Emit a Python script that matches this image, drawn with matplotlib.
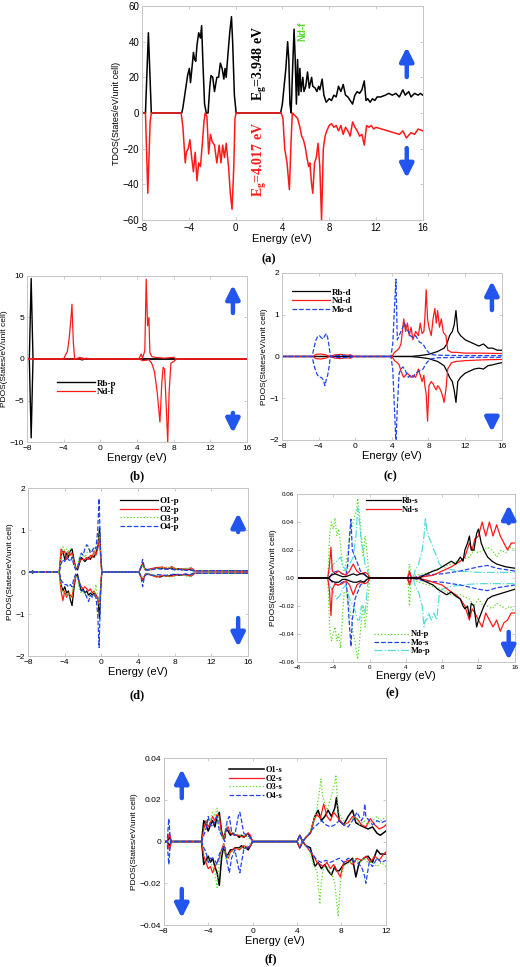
import matplotlib
matplotlib.use("Agg")
import matplotlib.pyplot as plt
from matplotlib.ticker import FuncFormatter

plt.rcParams['font.family'] = ['Liberation Sans', 'DejaVu Sans']
plt.rcParams['mathtext.default'] = 'regular'

# ---------------------------------------------------
# DATA  (energy in eV, DOS values)
# ---------------------------------------------------

# (a) total DOS, spin up / spin down : (E, dos)
tdos_up = [(-8, 0), (-7.7, 0), (-7.45, 45), (-7.2, 0), (-4.6, 0), (-4.5, 3), (-4.3, 12), (-4.1, 21),
           (-3.95, 25), (-3.85, 17), (-3.7, 27), (-3.6, 34), (-3.5, 30), (-3.4, 29), (-3.3, 38),
           (-3.15, 45), (-3.0, 42), (-2.9, 49), (-2.8, 30), (-2.65, 5), (-2.5, 0), (-2.35, 0),
           (-2.2, 15), (-2.1, 21), (-1.95, 20), (-1.8, 12), (-1.6, 20), (-1.45, 20), (-1.3, 28),
           (-1.15, 25), (-1.0, 19), (-0.9, 25), (-0.8, 20), (-0.65, 33), (-0.5, 45), (-0.35, 54),
           (-0.25, 40), (-0.1, 10), (0.05, 0), (3.85, 0), (4.0, 5), (4.15, 15), (4.3, 25), (4.45, 40),
           (4.55, 30), (4.65, 5), (4.75, 0), (4.85, 20), (5.0, 47), (5.1, 30), (5.2, 5), (5.3, 30),
           (5.4, 10), (5.5, 25), (5.6, 12), (5.75, 20), (5.85, 12), (6.0, 15), (6.15, 23), (6.3, 14),
           (6.5, 20), (6.6, 15), (6.8, 14), (6.95, 12), (7.1, 15), (7.2, 13), (7.4, 19), (7.55, 10),
           (7.75, 6), (8.0, 8), (8.2, 7), (8.4, 10), (8.6, 9), (8.8, 15), (9.0, 12), (9.2, 16),
           (9.4, 10), (9.6, 9), (9.8, 7), (10.0, 5), (10.2, 10), (10.4, 12), (10.6, 11), (10.8, 13),
           (11.0, 18), (11.15, 7), (11.3, 8), (11.5, 6), (11.7, 8), (11.9, 7), (12.1, 9), (12.4, 9),
           (12.8, 10), (13.1, 11), (13.4, 10), (13.7, 11), (14.0, 9), (14.3, 13), (14.5, 10),
           (14.8, 12), (15.0, 9), (15.3, 11), (15.6, 10), (15.8, 11), (16, 10)]
tdos_dn = [(-8, 0), (-7.7, 0), (-7.5, -45), (-7.3, -5), (-7.2, 0), (-4.65, 0), (-4.5, -8), (-4.3, -28),
           (-4.2, -22), (-4.05, -20), (-3.9, -15), (-3.75, -25), (-3.6, -33), (-3.45, -22), (-3.3, -38),
           (-3.15, -28), (-3.0, -30), (-2.85, -18), (-2.7, -5), (-2.6, 0), (-2.45, -2), (-2.3, -23),
           (-2.15, -12), (-2.0, -16), (-1.8, -18), (-1.6, -28), (-1.4, -18), (-1.25, -28), (-1.1, -18),
           (-0.95, -25), (-0.8, -17), (-0.6, -30), (-0.45, -45), (-0.3, -54), (-0.15, -30), (-0.05, -3),
           (0.05, 0), (3.9, 0), (4.05, -3), (4.2, -20), (4.4, -28), (4.6, -43), (4.75, -15), (4.85, 0),
           (5.0, -1), (5.3, -3), (5.5, -8), (5.65, -13), (5.8, -15), (5.95, -19), (6.1, -25),
           (6.25, -30), (6.35, -28), (6.5, -40), (6.6, -45), (6.75, -28), (6.9, -25), (7.05, -17),
           (7.2, -30), (7.35, -60), (7.5, -20), (7.65, -13), (7.8, -10), (8.0, -7), (8.2, -6),
           (8.4, -8), (8.6, -7), (8.8, -10), (9.0, -7), (9.2, -12), (9.4, -8), (9.6, -10), (9.8, -13),
           (10.0, -5), (10.2, -8), (10.4, -10), (10.6, -13), (10.8, -12), (11.0, -18), (11.2, -7),
           (11.4, -8), (11.6, -7), (11.8, -9), (12.0, -8), (12.5, -9), (13.0, -10), (13.5, -11),
           (14.0, -12), (14.3, -10), (14.6, -14), (15.0, -11), (15.3, -12), (15.6, -9), (16, -10)]

# (b) Rb-p / Nd-f : (E, up, down) and (E, dos)
rb_p = [(-8, 0, 0), (-7.75, 0, 0), (-7.55, 9.7, -9.5), (-7.35, 0, 0), (-2.3, 0, 0), (-2.0, 0.1, -0.1),
        (-1.6, 0, 0), (16, 0, 0)]
nd_f_up = [(-8, 0), (-4.0, 0), (-3.8, 0.5), (-3.6, 0.9), (-3.4, 2.5), (-3.2, 5), (-3.1, 6.6), (-2.95, 2),
           (-2.8, 0), (-2.2, 0.2), (-2.0, 0), (-1.5, 0.1), (-1.2, 0), (4.2, 0), (4.45, 0.6), (4.6, 0.1),
           (4.85, 1), (5.0, 9.6), (5.15, 4), (5.3, 5.0), (5.4, 0.8), (5.6, 0.3), (6.0, 0.2), (7.0, 0.1),
           (8.0, 0.2), (8.3, 0), (16, 0)]
nd_f_dn = [(-8, 0), (4.3, 0), (4.6, -0.2), (5.3, -0.1), (5.6, -0.5), (5.9, -1.5), (6.2, -4), (6.5, -7.6),
           (6.7, -3), (6.85, -1), (7.0, -1.2), (7.2, -6), (7.35, -10), (7.5, -4), (7.7, -0.5), (8.0, -0.3),
           (8.3, 0), (16, 0)]

# (c) Rb-d / Nd-d / Mo-d : (E, up, down)
rb_d = [(-8, 0, 0), (6, 0, 0), (7, 0.02, -0.02), (8, 0.05, -0.05), (9, 0.12, -0.12), (9.7, 0.2, -0.22),
        (10.0, 0.3, -0.35), (10.3, 0.5, -0.5), (10.6, 0.6, -0.6), (10.8, 0.75, -0.8), (11.0, 1.1, -1.1),
        (11.2, 0.6, -0.6), (11.5, 0.5, -0.5), (12, 0.4, -0.4), (12.5, 0.35, -0.35), (13, 0.3, -0.3),
        (13.5, 0.25, -0.28), (14, 0.3, -0.3), (14.5, 0.2, -0.22), (15, 0.2, -0.2), (15.5, 0.15, -0.17),
        (16, 0.15, -0.15)]
nd_d = [(-8, 0, 0), (-4.6, 0, 0), (-4.3, 0.05, -0.05), (-3.8, 0.06, -0.06), (-3.2, 0.04, -0.04),
        (-2.8, 0, 0), (-2.2, 0.04, -0.04), (-1.6, 0.05, -0.05), (-1.0, 0.03, -0.03), (-0.5, 0.04, -0.04),
        (-0.2, 0, 0), (4.0, 0, 0), (4.3, 0.1, -0.1), (4.6, 0.15, -0.15), (4.8, 0.2, -0.2), (5.0, 0.3, -0.35),
        (5.3, 0.9, -0.5), (5.5, 0.6, -0.45), (5.7, 0.8, -0.4), (5.9, 0.5, -0.45), (6.1, 0.7, -0.5),
        (6.3, 0.4, -0.45), (6.6, 0.6, -0.5), (6.9, 0.5, -0.3), (7.1, 0.8, -0.45), (7.3, 0.55, -0.6),
        (7.5, 0.6, -0.45), (7.6, 0.9, -0.7), (7.75, 1.6, -0.9), (7.9, 0.9, -1.55), (8.05, 0.7, -0.7),
        (8.3, 0.5, -0.6), (8.5, 0.9, -0.65), (8.7, 1.15, -0.75), (8.85, 0.8, -0.8), (9.0, 1.1, -0.7),
        (9.2, 0.7, -0.75), (9.4, 0.9, -0.85), (9.6, 0.6, -1.0), (9.7, 0.55, -1.1), (9.9, 0.5, -0.8),
        (10.1, 0.15, -0.3), (10.5, 0.1, -0.15), (11, 0.1, -0.12), (12, 0.08, -0.1), (14, 0.08, -0.08),
        (16, 0.07, -0.07)]
mo_d = [(-8, 0, 0), (-4.7, 0, 0), (-4.5, 0.2, -0.2), (-4.3, 0.38, -0.35), (-4.1, 0.48, -0.45),
        (-3.9, 0.5, -0.5), (-3.7, 0.45, -0.5), (-3.5, 0.42, -0.55), (-3.3, 0.5, -0.7), (-3.15, 0.55, -0.55),
        (-3.0, 0.45, -0.45), (-2.85, 0.25, -0.25), (-2.7, 0, 0), (-2.2, 0.02, -0.02), (-1.5, 0.03, -0.03),
        (-0.5, 0.02, -0.02), (-0.2, 0, 0), (3.9, 0, 0), (4.1, 0.3, -0.3), (4.3, 1.2, -1.3),
        (4.45, 1.85, -2.1), (4.6, 0.4, -1.2), (4.8, 0.5, -0.4), (5.0, 0.6, -0.3), (5.2, 0.7, -0.25),
        (5.4, 0.8, -0.3), (5.6, 0.65, -0.4), (5.8, 0.6, -0.5), (6.0, 0.5, -0.45), (6.3, 0.45, -0.5),
        (6.6, 0.5, -0.4), (7.0, 0.35, -0.35), (7.4, 0.3, -0.3), (7.8, 0.15, -0.15), (8.2, 0.05, -0.06),
        (9, 0.03, -0.03), (12, 0.02, -0.02), (16, 0.02, -0.02)]

# (d) O1-p .. O4-p : (E, up, down)
o1_p = [(-8, 0, 0), (-7.6, 0, 0), (-7.5, 0.03, -0.03), (-7.4, 0, 0), (-4.6, 0, 0), (-4.4, 0.4, -0.3),
        (-4.2, 0.5, -0.45), (-4.0, 0.3, -0.35), (-3.8, 0.45, -0.5), (-3.6, 0.35, -0.45), (-3.4, 0.5, -0.65),
        (-3.2, 0.55, -0.8), (-3.0, 0.3, -0.4), (-2.8, 0.1, -0.1), (-2.6, 0.05, -0.05), (-2.4, 0.2, -0.3),
        (-2.2, 0.35, -0.45), (-2.0, 0.3, -0.4), (-1.8, 0.25, -0.5), (-1.6, 0.3, -0.45), (-1.4, 0.35, -0.55),
        (-1.2, 0.3, -0.5), (-1.0, 0.4, -0.55), (-0.8, 0.35, -0.5), (-0.6, 0.45, -0.55), (-0.4, 0.6, -0.6),
        (-0.2, 1.05, -1.1), (-0.05, 0.3, -0.3), (0.05, 0, 0), (4.1, 0, 0), (4.5, 0.2, -0.2),
        (4.8, 0.05, -0.05), (5.2, 0.05, -0.05), (5.6, 0.08, -0.08), (6.0, 0.1, -0.1), (6.4, 0.08, -0.12),
        (6.8, 0.1, -0.08), (7.2, 0.07, -0.1), (7.6, 0.1, -0.08), (8.0, 0.06, -0.06), (8.4, 0.08, -0.08),
        (8.8, 0.05, -0.07), (9.2, 0.07, -0.05), (9.6, 0.06, -0.08), (10.0, 0.03, -0.03), (12, 0.03, -0.03),
        (16, 0.03, -0.03)]
o2_p = [(-8, 0, 0), (-4.6, 0, 0), (-4.4, 0.55, -0.45), (-4.2, 0.45, -0.68), (-4.0, 0.5, -0.45),
        (-3.8, 0.3, -0.6), (-3.6, 0.5, -0.5), (-3.4, 0.4, -0.55), (-3.2, 0.45, -0.6), (-3.0, 0.25, -0.3),
        (-2.8, 0.1, -0.1), (-2.6, 0.1, -0.1), (-2.4, 0.25, -0.25), (-2.2, 0.3, -0.35), (-2.0, 0.3, -0.4),
        (-1.8, 0.3, -0.35), (-1.6, 0.35, -0.4), (-1.4, 0.3, -0.45), (-1.2, 0.4, -0.4), (-1.0, 0.35, -0.5),
        (-0.8, 0.5, -0.45), (-0.6, 0.4, -0.55), (-0.4, 0.55, -0.65), (-0.2, 0.85, -0.8), (-0.05, 0.2, -0.2),
        (0.05, 0, 0), (4.1, 0, 0), (4.5, 0.18, -0.18), (4.8, 0.05, -0.05), (5.4, 0.08, -0.07),
        (6.0, 0.1, -0.12), (6.6, 0.12, -0.08), (7.2, 0.08, -0.1), (7.7, 0.13, -0.1), (8.2, 0.06, -0.07),
        (8.8, 0.08, -0.06), (9.4, 0.05, -0.08), (9.8, 0.1, -0.1), (10.2, 0.03, -0.03), (12, 0.03, -0.03),
        (16, 0.02, -0.02)]
o3_p = [(-8, 0, 0), (-4.6, 0, 0), (-4.4, 0.35, -0.35), (-4.2, 0.6, -0.5), (-4.0, 0.5, -0.45),
        (-3.8, 0.55, -0.55), (-3.6, 0.45, -0.5), (-3.4, 0.55, -0.6), (-3.2, 0.4, -0.55), (-3.0, 0.2, -0.25),
        (-2.8, 0.1, -0.1), (-2.6, 0.15, -0.15), (-2.4, 0.35, -0.4), (-2.2, 0.45, -0.5), (-2.0, 0.4, -0.45),
        (-1.8, 0.35, -0.5), (-1.6, 0.45, -0.55), (-1.4, 0.55, -0.6), (-1.2, 0.5, -0.55), (-1.0, 0.55, -0.6),
        (-0.8, 0.45, -0.55), (-0.6, 0.55, -0.3), (-0.4, 0.7, -0.6), (-0.2, 0.9, -0.85), (-0.05, 0.2, -0.2),
        (0.05, 0, 0), (4.1, 0, 0), (4.5, 0.15, -0.15), (4.8, 0.05, -0.05), (5.4, 0.06, -0.06),
        (6.0, 0.08, -0.1), (6.6, 0.1, -0.08), (7.2, 0.12, -0.1), (7.8, 0.1, -0.12), (8.4, 0.06, -0.06),
        (9.0, 0.08, -0.08), (9.6, 0.1, -0.12), (10.0, 0.04, -0.04), (12, 0.03, -0.03), (16, 0.03, -0.03)]
o4_p = [(-8, 0, 0), (-7.6, 0, 0), (-7.5, 0.03, -0.03), (-7.4, 0, 0), (-4.6, 0, 0), (-4.4, 0.2, -0.2),
        (-4.2, 0.3, -0.25), (-4.0, 0.25, -0.3), (-3.8, 0.35, -0.3), (-3.6, 0.3, -0.35), (-3.4, 0.25, -0.3),
        (-3.2, 0.35, -0.35), (-3.0, 0.15, -0.15), (-2.8, 0.05, -0.05), (-2.6, 0.1, -0.1), (-2.4, 0.3, -0.25),
        (-2.2, 0.45, -0.4), (-2.0, 0.4, -0.45), (-1.8, 0.55, -0.5), (-1.6, 0.65, -0.6), (-1.4, 0.6, -0.7),
        (-1.2, 0.45, -0.55), (-1.0, 0.5, -0.6), (-0.8, 0.6, -0.55), (-0.6, 0.55, -0.6), (-0.4, 1.0, -1.0),
        (-0.25, 1.75, -1.8), (-0.1, 0.5, -0.5), (0.05, 0, 0), (4.1, 0, 0), (4.35, 0.15, -0.15),
        (4.5, 0.3, -0.35), (4.7, 0.1, -0.1), (5.0, 0.05, -0.05), (5.6, 0.06, -0.08), (6.2, 0.08, -0.06),
        (6.8, 0.06, -0.08), (7.4, 0.08, -0.07), (8.0, 0.05, -0.05), (8.6, 0.06, -0.06), (9.2, 0.04, -0.05),
        (9.8, 0.05, -0.06), (10.2, 0.03, -0.03), (12, 0.03, -0.03), (16, 0.03, -0.03)]

# (e) Rb-s / Nd-s / Nd-p / Mo-s / Mo-p : (E, up, down)
rb_s = [(-8, 0, 0), (-4.5, 0, 0), (-4.2, 0.002, -0.002), (-3.8, 0.003, -0.003), (-3.4, 0.002, -0.003),
        (-3.0, 0.001, -0.001), (-2.6, 0.001, -0.001), (-2.2, 0.002, -0.002), (-1.8, 0.003, -0.003),
        (-1.4, 0.002, -0.003), (-1.0, 0.003, -0.002), (-0.6, 0.003, -0.003), (-0.3, 0.001, -0.001),
        (0, 0, 0), (5.5, 0, 0), (6, 0.002, -0.002), (7, 0.005, -0.005), (7.5, 0.006, -0.008),
        (8, 0.008, -0.01), (8.5, 0.01, -0.012), (9, 0.012, -0.01), (9.5, 0.01, -0.013), (10, 0.015, -0.015),
        (10.3, 0.012, -0.02), (10.5, 0.02, -0.022), (10.8, 0.025, -0.02), (11, 0.03, -0.028),
        (11.2, 0.02, -0.018), (11.5, 0.02, -0.02), (11.8, 0.032, -0.035), (12, 0.035, -0.03),
        (12.3, 0.025, -0.025), (12.6, 0.02, -0.02), (13, 0.015, -0.015), (13.5, 0.012, -0.013),
        (14, 0.01, -0.012), (15, 0.008, -0.01), (16, 0.007, -0.008)]
nd_s = [(-8, 0, 0), (-4.6, 0, 0), (-4.4, 0.01, -0.01), (-4.25, 0.022, -0.027), (-4.1, 0.005, -0.008),
        (-3.8, 0.003, -0.004), (-3.4, 0.005, -0.005), (-3.0, 0.003, -0.004), (-2.6, 0.002, -0.002),
        (-2.2, 0.005, -0.005), (-1.8, 0.01, -0.012), (-1.4, 0.005, -0.005), (-1.0, 0.003, -0.003),
        (-0.5, 0.004, -0.004), (-0.2, 0.003, -0.003), (0, 0, 0), (4.2, 0, 0), (4.4, 0.005, -0.005),
        (4.6, 0, 0), (6, 0.001, -0.001), (7, 0.002, -0.003), (8, 0.005, -0.005), (9, 0.008, -0.01),
        (9.5, 0.01, -0.012), (10, 0.012, -0.015), (10.5, 0.015, -0.02), (11, 0.025, -0.03),
        (11.3, 0.02, -0.022), (11.6, 0.028, -0.025), (12, 0.03, -0.03), (12.4, 0.04, -0.035),
        (12.8, 0.03, -0.025), (13.2, 0.04, -0.03), (13.6, 0.03, -0.035), (14, 0.038, -0.03),
        (14.4, 0.03, -0.038), (14.8, 0.025, -0.032), (15.2, 0.02, -0.03), (15.6, 0.025, -0.025),
        (16, 0.025, -0.025)]
nd_p = [(-8, 0, 0), (-4.6, 0, 0), (-4.4, 0.03, -0.035), (-4.2, 0.04, -0.045), (-4.0, 0.035, -0.04),
        (-3.8, 0.043, -0.035), (-3.6, 0.03, -0.045), (-3.4, 0.035, -0.04), (-3.2, 0.025, -0.05),
        (-3.0, 0.01, -0.03), (-2.8, 0.005, -0.01), (-2.6, 0.01, -0.01), (-2.4, 0.02, -0.015),
        (-2.2, 0.03, -0.02), (-2.0, 0.035, -0.03), (-1.8, 0.04, -0.04), (-1.6, 0.045, -0.045),
        (-1.4, 0.05, -0.055), (-1.3, 0.057, -0.058), (-1.1, 0.045, -0.045), (-0.9, 0.03, -0.03),
        (-0.7, 0.015, -0.02), (-0.5, 0.03, -0.035), (-0.3, 0.02, -0.025), (-0.1, 0.005, -0.01),
        (0.05, 0, 0), (4.2, 0, 0), (4.4, 0.01, -0.02), (4.6, 0, 0), (5, 0.002, -0.002), (6, 0.003, -0.004),
        (7, 0.005, -0.006), (8, 0.008, -0.008), (9, 0.01, -0.012), (10, 0.013, -0.012), (11, 0.015, -0.015),
        (11.5, 0.02, -0.02), (12, 0.018, -0.015), (12.5, 0.02, -0.02), (13, 0.022, -0.02),
        (13.5, 0.02, -0.022), (14, 0.015, -0.018), (14.5, 0.02, -0.02), (15, 0.018, -0.022),
        (15.5, 0.022, -0.02), (16, 0.02, -0.025)]
mo_s = [(-8, 0, 0), (-4.5, 0, 0), (-4.0, 0.004, -0.004), (-3.5, 0.005, -0.005), (-3.0, 0.003, -0.003),
        (-2.6, 0.002, -0.002), (-2.4, 0.01, -0.015), (-2.2, 0.03, -0.035), (-2.05, 0.042, -0.049),
        (-1.9, 0.02, -0.03), (-1.6, 0.015, -0.015), (-1.3, 0.01, -0.01), (-1.0, 0.005, -0.005),
        (-0.5, 0.002, -0.002), (0, 0, 0), (4.2, 0, 0), (4.4, 0.004, -0.004), (4.6, 0, 0), (6, 0.002, -0.002),
        (8, 0.003, -0.003), (10, 0.005, -0.005), (12, 0.008, -0.008), (13, 0.009, -0.009),
        (14, 0.007, -0.007), (16, 0.005, -0.005)]
mo_p = [(-8, 0, 0), (-4.6, 0, 0), (-4.4, 0.005, -0.005), (-4.0, 0.01, -0.01), (-3.6, 0.012, -0.015),
        (-3.2, 0.015, -0.012), (-3.0, 0.01, -0.008), (-2.6, 0.005, -0.005), (-2.2, 0.01, -0.015),
        (-1.8, 0.015, -0.02), (-1.5, 0.03, -0.025), (-1.3, 0.05, -0.03), (-1.1, 0.04, -0.03),
        (-0.9, 0.025, -0.02), (-0.7, 0.02, -0.02), (-0.5, 0.01, -0.025), (-0.2, 0.005, -0.005), (0, 0, 0),
        (4.8, 0, 0), (5.0, 0.005, -0.005), (5.4, 0.01, -0.01), (5.8, 0.02, -0.02), (6.0, 0.03, -0.035),
        (6.15, 0.043, -0.03), (6.3, 0.035, -0.03), (6.5, 0.03, -0.025), (6.8, 0.025, -0.03),
        (7.1, 0.02, -0.025), (7.4, 0.015, -0.03), (7.7, 0.01, -0.01), (8.0, 0.008, -0.008),
        (9, 0.006, -0.006), (10, 0.005, -0.005), (12, 0.004, -0.004), (16, 0.004, -0.004)]

# (f) O1-s .. O4-s : (E, up, down)
o1_s = [(-8, 0, 0), (-7.7, 0, 0), (-7.5, 0.002, -0.002), (-7.3, 0, 0), (-4.6, 0, 0), (-4.4, 0.01, -0.011),
        (-4.2, 0.008, -0.009), (-4.0, 0.005, -0.007), (-3.8, 0.008, -0.01), (-3.6, 0.01, -0.008),
        (-3.4, 0.007, -0.012), (-3.2, 0.012, -0.015), (-3.0, 0.014, -0.021), (-2.8, 0.005, -0.008),
        (-2.6, 0.001, -0.002), (-2.4, 0.006, -0.007), (-2.2, 0.005, -0.006), (-2.0, 0.003, -0.004),
        (-1.8, 0.004, -0.004), (-1.6, 0.003, -0.003), (-1.4, 0.003, -0.003), (-1.2, 0.002, -0.003),
        (-1.0, 0.003, -0.002), (-0.8, 0.002, -0.003), (-0.6, 0.003, -0.003), (-0.4, 0.004, -0.004),
        (-0.2, 0.002, -0.002), (0, 0, 0), (4.0, 0, 0), (4.25, 0.003, -0.003), (4.5, 0, 0),
        (4.8, 0.002, -0.002), (5.2, 0.004, -0.003), (5.6, 0.012, -0.012), (5.9, 0.015, -0.01),
        (6.2, 0.01, -0.013), (6.5, 0.012, -0.011), (6.8, 0.015, -0.014), (7.1, 0.012, -0.016),
        (7.4, 0.016, -0.012), (7.55, 0.021, -0.014), (7.8, 0.01, -0.014), (8.2, 0.008, -0.011),
        (8.6, 0.012, -0.01), (9.0, 0.015, -0.008), (9.3, 0.009, -0.017), (9.6, 0.008, -0.01),
        (10.0, 0.007, -0.008), (10.4, 0.006, -0.007), (10.8, 0.007, -0.01), (11.2, 0.004, -0.004),
        (11.5, 0.003, -0.006), (12, 0.005, -0.006)]
o2_s = [(-8, 0, 0), (-7.7, 0, 0), (-7.5, 0.004, -0.004), (-7.3, 0, 0), (-4.6, 0, 0), (-4.4, 0.006, -0.007),
        (-4.2, 0.01, -0.01), (-4.0, 0.007, -0.013), (-3.8, 0.009, -0.012), (-3.6, 0.012, -0.015),
        (-3.4, 0.01, -0.012), (-3.2, 0.013, -0.01), (-3.0, 0.012, -0.008), (-2.8, 0.004, -0.004),
        (-2.6, 0.001, -0.001), (-2.4, 0.005, -0.006), (-2.2, 0.007, -0.008), (-2.0, 0.004, -0.005),
        (-1.6, 0.003, -0.003), (-1.2, 0.003, -0.004), (-0.8, 0.002, -0.002), (-0.4, 0.004, -0.003),
        (-0.2, 0.003, -0.002), (0, 0, 0), (4.0, 0, 0), (4.25, 0.003, -0.003), (4.5, 0, 0),
        (4.8, 0.002, -0.002), (5.2, 0.004, -0.005), (5.5, 0.01, -0.007), (5.8, 0.013, -0.01),
        (6.1, 0.011, -0.011), (6.4, 0.018, -0.012), (6.7, 0.012, -0.01), (7.0, 0.01, -0.013),
        (7.3, 0.014, -0.011), (7.6, 0.012, -0.014), (7.9, 0.01, -0.017), (8.2, 0.008, -0.01),
        (8.6, 0.009, -0.009), (9.0, 0.012, -0.011), (9.4, 0.011, -0.008), (9.8, 0.008, -0.009),
        (10.2, 0.007, -0.007), (10.6, 0.011, -0.01), (11.0, 0.008, -0.007), (11.4, 0.006, -0.009),
        (11.8, 0.007, -0.006), (12, 0.008, -0.005)]
o3_s = [(-8, 0, 0), (-4.6, 0, 0), (-4.4, 0.004, -0.004), (-4.2, 0.007, -0.006), (-4.0, 0.01, -0.009),
        (-3.8, 0.01, -0.01), (-3.6, 0.014, -0.012), (-3.4, 0.012, -0.015), (-3.2, 0.016, -0.022),
        (-3.0, 0.006, -0.01), (-2.8, 0.003, -0.004), (-2.6, 0.001, -0.001), (-2.4, 0.008, -0.009),
        (-2.2, 0.007, -0.007), (-2.0, 0.005, -0.005), (-1.6, 0.004, -0.004), (-1.2, 0.003, -0.003),
        (-0.8, 0.003, -0.003), (-0.4, 0.002, -0.002), (0, 0, 0), (4.0, 0, 0), (4.25, 0.002, -0.002),
        (4.5, 0, 0), (4.8, 0.002, -0.002), (5.2, 0.005, -0.005), (5.4, 0.008, -0.01), (5.6, 0.012, -0.012),
        (5.8, 0.016, -0.015), (5.9, 0.02, -0.02), (6.05, 0.025, -0.03), (6.15, 0.03, -0.022),
        (6.3, 0.022, -0.015), (6.4, 0.02, -0.013), (6.7, 0.015, -0.012), (7.0, 0.02, -0.015),
        (7.25, 0.025, -0.017), (7.4, 0.028, -0.02), (7.5, 0.032, -0.025), (7.7, 0.015, -0.036),
        (7.9, 0.012, -0.02), (8.2, 0.01, -0.012), (8.4, 0.008, -0.011), (8.8, 0.01, -0.01),
        (9.2, 0.012, -0.008), (9.6, 0.008, -0.01), (10.0, 0.01, -0.008), (10.4, 0.008, -0.01),
        (10.8, 0.01, -0.01), (11.2, 0.012, -0.012), (11.6, 0.01, -0.01), (12, 0.012, -0.012)]
o4_s = [(-8, 0, 0), (-7.7, 0, 0), (-7.55, 0.011, -0.011), (-7.4, 0, 0), (-4.6, 0, 0), (-4.4, 0.003, -0.003),
        (-4.2, 0.006, -0.005), (-4.0, 0.012, -0.01), (-3.8, 0.008, -0.008), (-3.6, 0.007, -0.008),
        (-3.4, 0.01, -0.009), (-3.2, 0.012, -0.011), (-3.0, 0.005, -0.006), (-2.8, 0.003, -0.004),
        (-2.5, 0.0, -0.002), (-2.3, 0.01, -0.01), (-2.1, 0.012, -0.015), (-1.9, 0.005, -0.008),
        (-1.6, 0.003, -0.004), (-1.3, 0.012, -0.012), (-1.15, 0.014, -0.015), (-1.0, 0.01, -0.01),
        (-0.8, 0.004, -0.004), (-0.5, 0.003, -0.003), (-0.2, 0.002, -0.002), (0, 0, 0), (4.0, 0, 0),
        (4.25, 0.003, -0.003), (4.5, 0, 0), (5.0, 0.003, -0.003), (5.4, 0.006, -0.006), (5.8, 0.008, -0.009),
        (6.2, 0.01, -0.01), (6.6, 0.008, -0.009), (7.0, 0.007, -0.01), (7.4, 0.008, -0.009),
        (7.8, 0.01, -0.008), (8.2, 0.008, -0.01), (8.6, 0.007, -0.008), (9.0, 0.01, -0.009),
        (9.4, 0.014, -0.01), (9.8, 0.01, -0.012), (10.0, 0.012, -0.015), (10.1, 0.018, -0.017),
        (10.2, 0.012, -0.02), (10.5, 0.01, -0.01), (10.8, 0.008, -0.012), (11.2, 0.01, -0.008),
        (11.6, 0.009, -0.01), (12, 0.01, -0.009)]

# ---------------------------------------------------
# STYLE
# ---------------------------------------------------

BLACK = "black"
RED = "#ff1a1a"
GREEN = "#55dd22"
BLUE = "#2244ee"
CYAN = "#55dddd"
ARROW = "#2255ee"
FRAME = "#c4c4c4"

SERIF_BOLD = dict(family="Liberation Serif", weight="bold")


def style_axes(ax, xlim, ylim, yticks, tick_size, xticks=None):
    ax.set_xlim(*xlim)
    ax.set_ylim(*ylim)
    ax.set_xticks(xticks if xticks is not None else list(range(xlim[0], xlim[1] + 1, 4)))
    ax.set_yticks(yticks)
    for s in ax.spines.values():
        s.set_color(FRAME)
        s.set_linewidth(0.7)
    ax.tick_params(direction="in", length=2.5, width=0.6, color=FRAME,
                   labelsize=tick_size, top=True, right=True, pad=2)
    ax.set_xlabel("Energy (eV)", fontsize=8, labelpad=1)


def plot_pair(ax, pts, color, ls="-", lw=0.9, label=None):
    e = [p[0] for p in pts]
    ax.plot(e, [p[1] for p in pts], color=color, ls=ls, lw=lw, label=label)
    ax.plot(e, [p[2] for p in pts], color=color, ls=ls, lw=lw)


def plot_line(ax, pts, color, ls="-", lw=0.9, label=None):
    ax.plot([p[0] for p in pts], [p[1] for p in pts], color=color, ls=ls, lw=lw, label=label)


def spin_arrows(ax, x, up, down):
    for (y0, y1) in (up, down):
        ax.annotate("", xy=(x, y1), xytext=(x, y0), xycoords="axes fraction",
                    arrowprops=dict(arrowstyle="-|>,head_width=0.45,head_length=0.9",
                                    lw=3.2, color=ARROW, mutation_scale=9,
                                    shrinkA=0, shrinkB=0))


def legend(ax, handles_labels, anchor, loc, size):
    h, l = handles_labels
    lg = ax.legend(h, l, loc=loc, bbox_to_anchor=anchor, frameon=False,
                   handlelength=4.2, handletextpad=0.2, labelspacing=0.05,
                   borderaxespad=0, prop=dict(size=size, **SERIF_BOLD))
    return lg


def ylab(ax, text, size):
    ax.set_ylabel(text, fontsize=size, labelpad=1)


zero_fmt2 = FuncFormatter(lambda v, _: "0.0" if abs(v) < 1e-9 else f"{v:.2f}".replace("-", "\u2212"))
zero_fmt = FuncFormatter(lambda v, _: "0" if abs(v) < 1e-9 else f"{v:.2f}".replace("-", "\u2212"))

# ---------------------------------------------------
# FIGURE
# ---------------------------------------------------

fig = plt.figure(figsize=(5.2, 9.67), dpi=100)

# (a)
ax = fig.add_axes([0.273, 0.7725, 0.540, 0.2213])
plot_line(ax, tdos_up, BLACK, lw=1.1)
plot_line(ax, tdos_dn, RED, lw=1.1)
style_axes(ax, (-8, 16), (-60, 60), list(range(-60, 61, 20)), 7)
ylab(ax, "TDOS(States/eV/unit cell)", 6.5)
ax.text(2.1, 28, "E$_g$=3.948 eV", rotation=90, ha="center", va="center",
        color=BLACK, fontsize=10, **SERIF_BOLD)
ax.text(2.1, -26, "E$_g$=4.017 eV", rotation=90, ha="center", va="center",
        color=RED, fontsize=10, **SERIF_BOLD)
ax.text(5.7, 46, "Nd-f", rotation=90, ha="center", va="center",
        color=GREEN, fontsize=7, fontweight="bold")
spin_arrows(ax, 0.943, (0.668, 0.808), (0.336, 0.196))
fig.text(0.516, 1 - 259 / 967, "(a)", ha="center", va="center", fontsize=9, **SERIF_BOLD)

# (b)
ax = fig.add_axes([0.052, 0.5429, 0.423, 0.1717])
plot_pair(ax, rb_p, BLACK, lw=1.0, label="Rb-p")
plot_line(ax, nd_f_up, RED, lw=0.9, label="Nd-f")
plot_line(ax, nd_f_dn, RED, lw=0.9)
style_axes(ax, (-8, 16), (-10, 10), [-10, -5, 0, 5, 10], 6)
ylab(ax, "PDOS(States/eV/unit cell)", 6)
legend(ax, ax.get_legend_handles_labels(), (0.12, 0.40), "upper left", 6.5)
spin_arrows(ax, 0.936, (0.777, 0.946), (0.175, 0.054))
fig.text(0.263, 1 - 476 / 967, "(b)", ha="center", va="center", fontsize=9, **SERIF_BOLD)

# (c)
ax = fig.add_axes([0.542, 0.545, 0.423, 0.1727])
plot_pair(ax, rb_d, BLACK, label="Rb-d")
plot_pair(ax, nd_d, RED, label="Nd-d")
plot_pair(ax, mo_d, BLUE, ls="--", label="Mo-d")
style_axes(ax, (-8, 16), (-2, 2), [-2, -1, 0, 1, 2], 6)
ylab(ax, "PDOS(States/eV/unit cell)", 6)
legend(ax, ax.get_legend_handles_labels(), (0.03, 0.93), "upper left", 6.5)
spin_arrows(ax, 0.955, (0.778, 0.952), (0.13, 0.048))
fig.text(0.75, 1 - 476 / 967, "(c)", ha="center", va="center", fontsize=9, **SERIF_BOLD)

# (d)
ax = fig.add_axes([0.054, 0.3216, 0.423, 0.1737])
plot_pair(ax, o1_p, BLACK, label="O1-p")
plot_pair(ax, o2_p, RED, label="O2-p")
plot_pair(ax, o3_p, GREEN, ls=":", label="O3-p")
plot_pair(ax, o4_p, BLUE, ls="--", label="O4-p")
style_axes(ax, (-8, 16), (-2, 2), [-2, -1, 0, 1, 2], 6)
ylab(ax, "PDOS(States/eV/unit cell)", 6)
legend(ax, ax.get_legend_handles_labels(), (0.40, 0.97), "upper left", 6.5)
spin_arrows(ax, 0.955, (0.738, 0.851), (0.226, 0.054))
fig.text(0.263, 1 - 695 / 967, "(d)", ha="center", va="center", fontsize=9, **SERIF_BOLD)

# (e)
ax = fig.add_axes([0.571, 0.3154, 0.419, 0.1737])
plot_pair(ax, nd_p, GREEN, ls=":", label="Nd-p")
plot_pair(ax, mo_p, CYAN, ls="-.", label="Mo-p")
plot_pair(ax, mo_s, BLUE, ls="--", label="Mo-s")
plot_pair(ax, nd_s, RED, label="Nd-s")
plot_pair(ax, rb_s, BLACK, label="Rb-s")
style_axes(ax, (-8, 16), (-0.06, 0.06), [-0.06, -0.04, -0.02, 0, 0.02, 0.04, 0.06], 4.5)
ax.yaxis.set_major_formatter(zero_fmt2)
ylab(ax, "PDOS(States/eV/unit cell)", 6)
h, l = ax.get_legend_handles_labels()
hd = dict(zip(l, h))
lg1 = legend(ax, ([hd["Rb-s"], hd["Nd-s"]], ["Rb-s", "Nd-s"]), (0.30, 1.0), "upper left", 6)
ax.add_artist(lg1)
legend(ax, ([hd["Nd-p"], hd["Mo-s"], hd["Mo-p"]], ["Nd-p", "Mo-s", "Mo-p"]),
       (0.34, 0.02), "lower left", 6)
spin_arrows(ax, 0.972, (0.827, 0.935), (0.179, 0.012))
fig.text(0.754, 1 - 693 / 967, "(e)", ha="center", va="center", fontsize=9, **SERIF_BOLD)

# (f)
ax = fig.add_axes([0.315, 0.0434, 0.427, 0.1727])
plot_pair(ax, o1_s, BLACK, lw=1.1, label="O1-s")
plot_pair(ax, o2_s, RED, label="O2-s")
plot_pair(ax, o3_s, GREEN, ls=":", label="O3-s")
plot_pair(ax, o4_s, BLUE, ls="--", label="O4-s")
style_axes(ax, (-8, 12), (-0.04, 0.04), [-0.04, -0.02, 0, 0.02, 0.04], 6)
ax.yaxis.set_major_formatter(zero_fmt)
ylab(ax, "PDOS(States/eV/unit cell)", 6)
legend(ax, ax.get_legend_handles_labels(), (0.28, 0.97), "upper left", 6)
spin_arrows(ax, 0.081, (0.76, 0.934), (0.216, 0.042))
fig.text(0.52, 1 - 959 / 967, "(f)", ha="center", va="center", fontsize=9, **SERIF_BOLD)

fig.savefig("out.png", dpi=100)
plt.close(fig)
